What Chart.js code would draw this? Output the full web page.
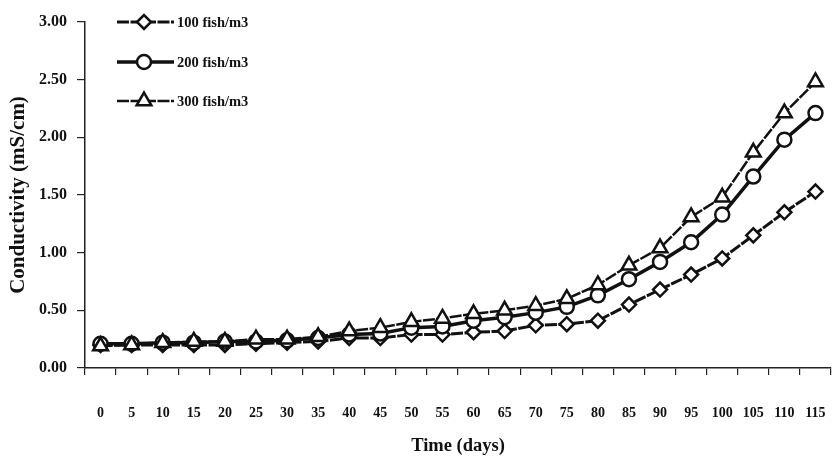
<!DOCTYPE html>
<html>
<head>
<meta charset="utf-8">
<script src="https://cdn.jsdelivr.net/npm/chart.js@4/dist/chart.umd.min.js"></script>
<style>
  html, body { margin: 0; padding: 0; background: #fff; overflow: hidden; }
  #wrap { width: 832px; height: 457px; overflow: hidden; }
  #c { display: block; }
</style>
</head>
<body>
<div id="wrap"><canvas id="c" width="842" height="457"></canvas></div>
<script>
// Sampling days
const days = [0, 5, 10, 15, 20, 25, 30, 35, 40, 45, 50, 55, 60, 65, 70, 75, 80, 85, 90, 95, 100, 105, 110, 115];

// Conductivity (mS/cm) for each stocking density
const density100 = [0.20, 0.20, 0.20, 0.20, 0.20, 0.21, 0.22, 0.23, 0.26, 0.26, 0.29, 0.29, 0.31, 0.32, 0.37, 0.38, 0.41, 0.55, 0.68, 0.81, 0.95, 1.15, 1.35, 1.53];
const density200 = [0.21, 0.21, 0.22, 0.22, 0.23, 0.23, 0.24, 0.26, 0.29, 0.30, 0.35, 0.36, 0.41, 0.44, 0.48, 0.53, 0.63, 0.77, 0.92, 1.09, 1.33, 1.66, 1.98, 2.21];
const density300 = [0.19, 0.20, 0.22, 0.23, 0.23, 0.25, 0.25, 0.27, 0.32, 0.35, 0.40, 0.43, 0.47, 0.50, 0.54, 0.60, 0.72, 0.89, 1.04, 1.31, 1.48, 1.87, 2.21, 2.48];

const seriesNames = ['100 fish/m3', '200 fish/m3', '300 fish/m3'];
const yTicks = [0, 0.5, 1, 1.5, 2, 2.5, 3];

const FONT = "'Liberation Serif', 'Times New Roman', serif";
const INK = '#111';

function series(label, data, style, width, dash, order) {
  return {
    label, data, order,
    borderColor: INK, borderWidth: width, borderDash: dash,
    tension: 0, fill: false,
    pointStyle: style, pointRadius: style === 'triangle' ? 8.5 : 7,
    pointBorderWidth: 2.5, pointBackgroundColor: '#fff', pointBorderColor: INK
  };
}

// Vertical legend drawn in the upper-left corner of the plot
const cornerLegend = {
  id: 'cornerLegend',
  afterDraw(chart) {
    const ctx = chart.ctx;
    const rows = [22, 62, 101];
    chart.data.datasets.forEach((ds, i) => {
      const y = rows[i];
      ctx.save();
      ctx.strokeStyle = ds.borderColor;
      ctx.lineWidth = ds.borderWidth;
      ctx.setLineDash(ds.borderDash || []);
      ctx.beginPath();
      ctx.moveTo(117, y);
      ctx.lineTo(174, y);
      ctx.stroke();
      ctx.setLineDash([]);
      ctx.fillStyle = '#fff';
      ctx.strokeStyle = INK;
      ctx.lineWidth = ds.pointBorderWidth;
      Chart.helpers.drawPoint(ctx, { pointStyle: ds.pointStyle, radius: ds.pointRadius, rotation: 0, borderWidth: ds.pointBorderWidth }, 144, y);
      ctx.fillStyle = INK;
      ctx.font = 'bold 14.5px ' + FONT;
      ctx.textBaseline = 'middle';
      ctx.textAlign = 'left';
      ctx.fillText(ds.label, 177, y + 1);
      ctx.restore();
    });
  }
};

new Chart(document.getElementById('c'), {
  type: 'line',
  data: {
    labels: days.map(String),
    datasets: [
      series(seriesNames[0], density100, 'rectRot', 3, [12, 1.5], 2),
      series(seriesNames[1], density200, 'circle', 3.5, [], 1),
      series(seriesNames[2], density300, 'triangle', 2.5, [12, 1.5], 0)
    ]
  },
  options: {
    responsive: false,
    devicePixelRatio: 1,
    animation: false,
    layout: { padding: { top: 22, right: 0, left: 0, bottom: 0 } },
    plugins: { legend: { display: false }, tooltip: { enabled: false } },
    scales: {
      x: {
        type: 'category',
        offset: true,
        grid: { offset: true, drawOnChartArea: false, drawTicks: true, tickLength: 7, color: '#222', lineWidth: 1.2 },
        border: { display: true, color: '#222', width: 1.5 },
        ticks: { autoSkip: false, maxRotation: 0, padding: 30, color: INK, font: { family: FONT, size: 14, weight: 'bold' } },
        title: { display: true, text: 'Time (days)', color: INK, padding: 0, font: { family: FONT, size: 18.5, weight: 'bold' } },
        afterFit(s) { s.height = 89; s.paddingLeft = 0; s.paddingRight = 0; }
      },
      y: {
        min: 0, max: 3,
        afterBuildTicks(s) { s.ticks = yTicks.map(v => ({ value: v })); },
        grid: { drawOnChartArea: false, drawTicks: true, tickLength: 8, color: '#222', lineWidth: 1.2 },
        border: { display: true, color: '#222', width: 1.5 },
        ticks: { padding: 10, color: INK, callback: v => Number(v).toFixed(2), font: { family: FONT, size: 16, weight: 'bold' } },
        title: { display: true, text: 'Conductivity (mS/cm)', color: INK, padding: { top: 6, bottom: 0 }, font: { family: FONT, size: 21, weight: 'bold' } },
        afterFit(s) { s.width = 85; s.paddingTop = 0; s.paddingBottom = 0; }
      }
    }
  },
  plugins: [cornerLegend]
});
</script>
</body>
</html>
